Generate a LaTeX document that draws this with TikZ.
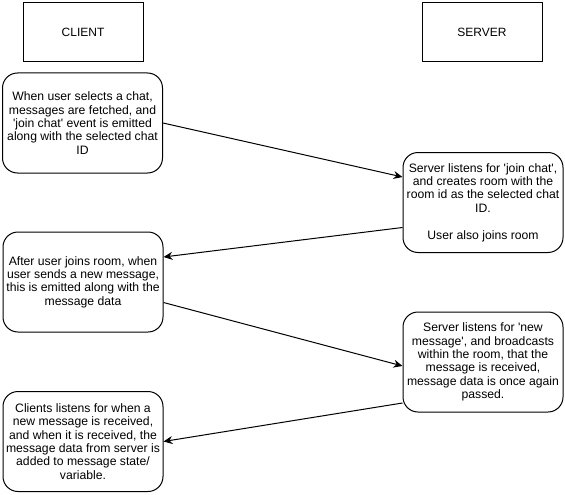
\documentclass[tikz,border=0pt]{standalone}
\usepackage{fontspec}
\setmainfont{Liberation Sans}
\usetikzlibrary{arrows.meta}
\newcommand{\sq}{\textquotesingle}
\begin{document}
\begin{tikzpicture}[x=1pt,y=-1pt,
  hdr/.style={draw, line width=1pt, minimum width=120pt, minimum height=59pt, font=\fontsize{12}{14}\selectfont, inner sep=0pt},
  stepbox/.style={draw, line width=1pt, rounded corners=15pt, minimum width=160pt, minimum height=100pt, align=center, font=\fontsize{12.2}{13.4}\selectfont, inner sep=0pt},
  conn/.style={draw, line width=1pt, -{Stealth[length=9pt,width=8pt,inset=3pt]}}]
\useasboundingbox (0,0) rectangle (565,495);
\node[hdr] (client) at (83,32.5) {CLIENT};
\node[hdr] (server) at (482,32.5) {SERVER};
\node[stepbox] (c1) at (82.5,123) {When user selects a chat,\\messages are fetched, and\\\sq join chat\sq{} event is emitted\\along with the selected chat\\ID};
\node[stepbox] (s1) at (483,202.5) {Server listens for \sq join chat\sq,\\and creates room with the\\room id as the selected chat\\ID.\\[13.4pt]User also joins room};
\node[stepbox] (c2) at (83,282) {After user joins room, when\\user sends a new message,\\this is emitted along with the\\message data};
\node[stepbox] (s2) at (483,362) {Server listens for \sq new\\message\sq, and broadcasts\\within the room, that the\\message is received,\\message data is once again\\passed.};
\node[stepbox] (c3) at (83,441.5) {Clients listens for when a\\new message is received,\\and when it is received, the\\message data from server is\\added to message state/\\variable.};
\draw[conn] (c1.east) -- ([yshift=25.5pt]s1.west);
\draw[conn] ([yshift=-25pt]s1.west) -- ([yshift=25pt]c2.east);
\draw[conn] ([yshift=-20.5pt]c2.east) -- ([yshift=-4pt]s2.west);
\draw[conn] ([yshift=-41pt]s2.west) -- (c3.east);
\end{tikzpicture}
\end{document}
